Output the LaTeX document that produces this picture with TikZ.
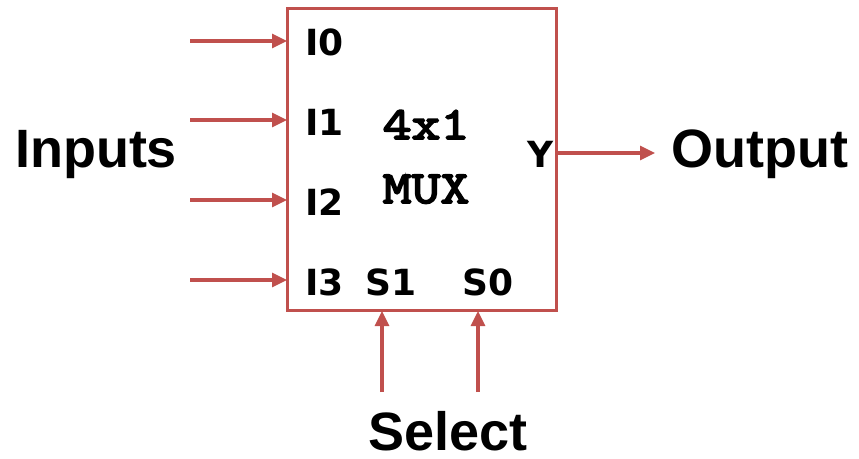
\documentclass[tikz,border=0pt]{standalone}
\usepackage{fontspec}
\setmainfont{Liberation Sans}
\newfontfamily\pinfont{DejaVu Sans}
\newfontfamily\muxfont[FakeBold=4,FakeStretch=1.22]{Latin Modern Mono}
\usetikzlibrary{arrows.meta}
\definecolor{muxred}{HTML}{C0504D}
\begin{document}
\begin{tikzpicture}[x=1pt,y=-1pt,
  wire/.style={draw=muxred,line width=3.2pt,-{Triangle[length=15pt,width=14pt]}},
  pin/.style={font=\pinfont\bfseries\fontsize{36}{40}\selectfont,inner sep=0pt},
  big/.style={font=\bfseries\fontsize{54}{60}\selectfont,inner sep=0pt,anchor=base},
  mux/.style={font=\muxfont\fontsize{46}{50}\selectfont,inner sep=0pt,anchor=base}]
\useasboundingbox (0,0) rectangle (859,458);
\node[draw=muxred,line width=3pt,minimum width=269pt,minimum height=302pt,inner sep=0pt] (box) at (421.5,159) {};
\node[pin,anchor=base west] (i0) at (305,55) {I0};
\node[pin,anchor=base west] (i1) at (305,135) {I1};
\node[pin,anchor=base west] (i2) at (305,215) {I2};
\node[pin,anchor=base west] (i3) at (305,295) {I3};
\node[pin,anchor=base] (s1) at (391,295) {S1};
\node[pin,anchor=base] (s0) at (488,295) {S0};
\node[pin,anchor=base] (y) at (541,167) {Y};
\node[mux] (t4) at (426,139) {4x1};
\node[mux] (tm) at (426,203) {MUX};
\node[big] (inputs) at (96,167) {Inputs};
\node[big] (output) at (760,167) {Output};
\node[big] (select) at (448,450) {Select};
\coordinate (a0) at (190,41);
\coordinate (a1) at (190,120);
\coordinate (a2) at (190,200);
\coordinate (a3) at (190,280);
\coordinate (b0) at (287,41);
\coordinate (b1) at (287,120);
\coordinate (b2) at (287,200);
\coordinate (b3) at (287,280);
\coordinate (ys) at (556,153);
\coordinate (ye) at (655,153);
\coordinate (sa) at (382,392);
\coordinate (sb) at (382,311);
\coordinate (sc) at (478,392);
\coordinate (sd) at (478,311);
\draw[wire] (a0) -- (b0);
\draw[wire] (a1) -- (b1);
\draw[wire] (a2) -- (b2);
\draw[wire] (a3) -- (b3);
\draw[wire] (ys) -- (ye);
\draw[wire] (sa) -- (sb);
\draw[wire] (sc) -- (sd);
\end{tikzpicture}
\end{document}
